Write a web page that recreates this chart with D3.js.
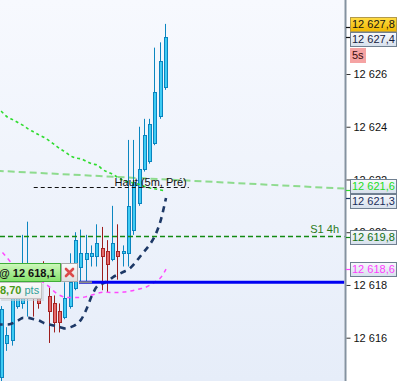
<!DOCTYPE html>
<html><head><meta charset="utf-8">
<script src="https://cdn.jsdelivr.net/npm/d3@7/dist/d3.min.js"></script>
<style>html,body{margin:0;padding:0;background:#fff;overflow:hidden}svg{display:block}</style>
</head><body>
<svg id="c" width="397" height="381"></svg>
<script>
// ---------- DATA ----------
const barIndex = d3.range(0, 32);
const opens  = [12614.5,12615.8,12615.9,12617.2,12617.3,12617.5,12617.9,12617.7,12618.7,12617.6,12617.3,12617.0,12616.8,12617.2,12617.9,12618.7,12619.0,12619.1,12619.1,12619.4,12619.3,12619.0,12619.3,12619.2,12619.2,12620.1,12621.1,12622.4,12622.7,12623.4,12624.4,12625.5];
const highs  = [12617.2,12616.4,12617.9,12618.7,12619.9,12620.4,12618.2,12618.0,12618.9,12617.9,12617.6,12617.3,12618.1,12619.2,12620.0,12620.1,12619.9,12619.5,12620.3,12620.2,12619.7,12621.0,12620.3,12619.5,12623.5,12623.5,12624.0,12624.3,12624.3,12627.0,12627.2,12627.9];
const lows   = [12614.2,12615.5,12615.7,12617.1,12617.1,12616.8,12616.8,12617.1,12618.2,12615.8,12616.2,12616.2,12616.7,12617.1,12617.8,12618.1,12618.1,12618.7,12618.7,12617.8,12617.7,12618.9,12618.2,12618.7,12618.7,12619.9,12621.0,12622.3,12622.6,12623.3,12624.3,12625.4];
const closes = [12617.1,12616.1,12617.7,12618.6,12618.4,12618.6,12617.5,12617.3,12618.4,12617.0,12616.6,12616.6,12617.5,12618.1,12619.7,12619.2,12619.2,12619.2,12619.6,12619.1,12618.8,12619.6,12619.1,12619.3,12621.0,12621.9,12622.4,12623.7,12624.1,12625.3,12626.5,12627.4];

// indicator curves, one value per bar from bar -1 to bar 31
const lineBars = d3.range(-1, 32);
const navyVals = [12616.5,12616.5,12616.5,12616.55,12616.65,12616.75,12616.75,12616.7,12616.65,12616.55,12616.5,12616.45,12616.4,12616.35,12616.4,12616.5,12616.7,12617.1,12617.6,12617.95,12618.05,12618.15,12618.3,12618.4,12618.5,12618.6,12618.8,12619.05,12619.3,12619.55,12619.9,12620.45,12621.3];
const magentaVals = [12619.44,12619.25,12619.02,12618.80,12618.64,12618.49,12618.38,12618.26,12618.19,12618.07,12617.92,12617.73,12617.60,12617.53,12617.52,12617.52,12617.52,12617.56,12617.62,12617.68,12617.72,12617.72,12617.71,12617.71,12617.73,12617.76,12617.80,12617.85,12617.90,12618.00,12618.13,12618.28,12618.6];
const greenVals = [12624.75,12624.56,12624.37,12624.27,12624.16,12624.05,12623.91,12623.80,12623.69,12623.59,12623.46,12623.31,12623.16,12623.04,12622.89,12622.81,12622.78,12622.68,12622.59,12622.55,12622.38,12622.28,12622.19,12622.06,12621.96,12621.90,12621.87,12621.81,12621.73,12621.68,12621.64,12621.60,12621.56];
const lightGreenBars = [-1, 66];
const lightGreenVals = [12622.33, 12621.64];

const hautLevel = 12621.7, hautBars = [6, 35.3], hautText = "Haut (5m, Pré)";
const s1Level = 12619.8, s1Text = "S1 4h";
const orderPrice = 12618.1, orderText = "@ 12 618,1", pnlValue = "8,70", pnlUnit = "pts";

const yTicks = [12616, 12618, 12620, 12622, 12624, 12626];
const labelValues = [12627.8, 12627.4, 12621.6, 12621.3, 12619.8, 12618.6];
const labelKinds  = ["high", "last", "green", "navy", "s1", "magenta"];
const timerText = "5s";

// ---------- SETUP ----------
const W = 397, H = 381, plotRight = 344.5;
const svg = d3.select("#c");
const defs = svg.append("defs");
const FONT = "'Liberation Sans', Arial, sans-serif";

function vgrad(id, a, b) {
  const g = defs.append("linearGradient").attr("id", id).attr("x1", 0).attr("y1", 0).attr("x2", 0).attr("y2", 1);
  g.append("stop").attr("offset", "0%").attr("stop-color", a);
  g.append("stop").attr("offset", "100%").attr("stop-color", b);
}
vgrad("bg", "#f7f9fe", "#e6edf9");
vgrad("gold", "#ffdc45", "#f0b800");
vgrad("box", "#f7f9fc", "#d6e0ec");
vgrad("ordg", "#cef8bc", "#84e16b");
vgrad("closeg", "#fbfbfb", "#dedede");
vgrad("pnlg", "#fbfbfb", "#ebebeb");
defs.append("clipPath").attr("id", "clip").append("rect")
  .attr("x", 0).attr("y", 0).attr("width", plotRight).attr("height", H);

svg.append("rect").attr("width", W).attr("height", H).attr("fill", "#ffffff");
svg.append("rect").attr("width", plotRight).attr("height", H).attr("fill", "url(#bg)");

const x = d3.scaleLinear().domain([0, 31]).range([2, 166]);
const y = d3.scaleLinear().domain([12616, 12626]).range([337.7, 74]);

const plot = svg.append("g").attr("clip-path", "url(#clip)");

// light green long-dash line
plot.append("path")
  .datum(lightGreenBars.map((b, k) => [b, lightGreenVals[k]]))
  .attr("d", d3.line().x(d => x(d[0])).y(d => y(d[1])))
  .attr("fill", "none").attr("stroke", "#8edb8e").attr("stroke-width", 2)
  .attr("stroke-dasharray", "7,4");

// candles
const candles = barIndex.map(i => ({ i, o: opens[i], h: highs[i], l: lows[i], c: closes[i] }));
const cg = plot.append("g");
cg.selectAll("line").data(candles).join("line")
  .attr("x1", d => Math.round(x(d.i)) - 0.5).attr("x2", d => Math.round(x(d.i)) - 0.5)
  .attr("y1", d => y(d.h)).attr("y2", d => y(d.l))
  .attr("stroke", d => d.c >= d.o ? "#0b86c0" : "#9c1c1c").attr("stroke-width", 1);
cg.selectAll("rect").data(candles).join("rect")
  .attr("x", d => Math.round(x(d.i)) - 1.5).attr("width", 3)
  .attr("y", d => Math.round(y(Math.max(d.o, d.c))) + 0.5)
  .attr("height", d => Math.max(1, Math.round(y(Math.min(d.o, d.c))) - Math.round(y(Math.max(d.o, d.c)))))
  .attr("fill", d => d.c >= d.o ? "#3ecbf3" : "#e46a6a")
  .attr("stroke", d => d.c >= d.o ? "#0a84bf" : "#a82424").attr("stroke-width", 1);

// indicator curves
const curve = d3.line().x(d => x(d[0])).y(d => y(d[1])).curve(d3.curveMonotoneX);
function drawCurve(vals, color, width, dash) {
  plot.append("path").datum(lineBars.map((b, k) => [b, vals[k]]))
    .attr("d", curve).attr("fill", "none").attr("stroke", color)
    .attr("stroke-width", width).attr("stroke-dasharray", dash);
}
drawCurve(greenVals, "#2fdc2f", 1.6, "3,3");
drawCurve(magentaVals, "#ff48ff", 1.5, "4,4");
drawCurve(navyVals, "#1d3866", 2.6, "6,5");

// Haut (5m, Pré)
plot.append("line")
  .attr("x1", x(hautBars[0])).attr("x2", x(hautBars[1]))
  .attr("y1", Math.round(y(hautLevel)) + 0.5).attr("y2", Math.round(y(hautLevel)) + 0.5)
  .attr("stroke", "#111").attr("stroke-width", 1).attr("stroke-dasharray", "4,3");
plot.append("text").attr("x", x(hautBars[1]) - 2).attr("y", y(hautLevel) - 1)
  .attr("text-anchor", "end").attr("font-family", FONT).attr("font-size", 11)
  .attr("fill", "#111").text(hautText);

// S1 4h
const s1y = Math.round(y(s1Level)) - 0.5;
plot.append("line").attr("x1", 0).attr("x2", plotRight + 6).attr("y1", s1y).attr("y2", s1y)
  .attr("stroke", "#138a13").attr("stroke-width", 1.5).attr("stroke-dasharray", "5,3");
plot.append("text").attr("x", 339).attr("y", s1y - 4).attr("text-anchor", "end")
  .attr("font-family", FONT).attr("font-size", 11).attr("fill", "#2a7a1a").text(s1Text);

// order line
const oy = y(orderPrice);
plot.append("line").attr("x1", 79).attr("x2", plotRight).attr("y1", oy).attr("y2", oy)
  .attr("stroke", "#0000f2").attr("stroke-width", 3);
plot.append("line").attr("x1", 79).attr("x2", 92).attr("y1", oy).attr("y2", oy)
  .attr("stroke", "#8a8a8a").attr("stroke-width", 2);

// order label
const ol = plot.append("g");
const topY = Math.round(oy) - 19;
ol.append("rect").attr("x", -1.5).attr("y", topY + 0.5).attr("width", 62).attr("height", 18)
  .attr("fill", "url(#ordg)").attr("stroke", "#3fae38");
ol.append("rect").attr("x", 61.5).attr("y", topY + 0.5).attr("width", 16).attr("height", 18)
  .attr("fill", "url(#closeg)").attr("stroke", "#a9a9a9");
const cx0 = 69.5, cy0 = topY + 9.5;
ol.append("path").attr("d", `M${cx0 - 3.5},${cy0 - 3.5}L${cx0 + 3.5},${cy0 + 3.5}M${cx0 + 3.5},${cy0 - 3.5}L${cx0 - 3.5},${cy0 + 3.5}`)
  .attr("stroke", "#dc4a4a").attr("stroke-width", 2.6).attr("stroke-linecap", "round");
ol.append("text").attr("x", -1).attr("y", topY + 14).attr("font-family", FONT)
  .attr("font-size", 11).attr("font-weight", "bold").attr("fill", "#111").text(orderText);
const botY = topY + 19;
ol.append("rect").attr("x", 1).attr("y", botY + 2).attr("width", 43).attr("height", 17).attr("fill", "#c9ced6").attr("opacity", 0.6);
ol.append("rect").attr("x", -1.5).attr("y", botY + 0.5).attr("width", 43).attr("height", 16)
  .attr("fill", "url(#pnlg)").attr("stroke", "#c2c2c2");
const pt = ol.append("text").attr("x", 0).attr("y", botY + 12).attr("font-family", FONT).attr("font-size", 11);
pt.append("tspan").attr("font-weight", "bold").attr("fill", "#4a9a16").text(pnlValue);
pt.append("tspan").attr("fill", "#2f9f9a").text(" " + pnlUnit);

// ---------- RIGHT AXIS ----------
svg.append("rect").attr("x", 346.5).attr("y", 0).attr("width", W - 346.5).attr("height", H).attr("fill", "#ffffff");
svg.append("line").attr("x1", 345.5).attr("x2", 345.5).attr("y1", 0).attr("y2", H)
  .attr("stroke", "#8492a0").attr("stroke-width", 2);

const loc = d3.formatLocale({ decimal: ",", thousands: " ", grouping: [3], currency: ["", ""] });
const fmt0 = loc.format(",.0f"), fmt1 = loc.format(",.1f");
const axisG = svg.append("g").attr("transform", "translate(346.5,0)")
  .call(d3.axisRight(y).tickValues(yTicks).tickFormat(fmt0).tickSize(4).tickPadding(3));
axisG.select(".domain").remove();
axisG.selectAll(".tick line").attr("stroke", "#333");
axisG.selectAll(".tick text").attr("font-family", FONT).attr("font-size", 11).attr("fill", "#111");

// price labels with collision layout
const styles = {
  high:    { fill: "url(#gold)", stroke: "#b39a4a", text: "#111", tick: "#111" },
  last:    { fill: "url(#box)",  stroke: "#6f7f90", text: "#152040", tick: "#111" },
  green:   { fill: "url(#box)",  stroke: "#6f7f90", text: "#22dd22", tick: "#2fdc2f" },
  navy:    { fill: "url(#box)",  stroke: "#6f7f90", text: "#1a2d5a", tick: "#1d3866" },
  s1:      { fill: "url(#box)",  stroke: "#6f7f90", text: "#127012", tick: "#138a13" },
  magenta: { fill: "url(#box)",  stroke: "#6f7f90", text: "#ff3cff", tick: "#ff48ff" }
};
const LH = 15;
const items = labelValues.map((v, k) => ({ v, kind: labelKinds[k], y0: y(v) })).sort((a, b) => a.y0 - b.y0);
let groups = items.map(d => ({ items: [d], y: d.y0 }));
let changed = true;
while (changed) {
  changed = false;
  for (let k = 0; k < groups.length - 1; k++) {
    const a = groups[k], b = groups[k + 1];
    if (a.y + a.items.length * LH / 2 > b.y - b.items.length * LH / 2) {
      const its = a.items.concat(b.items);
      groups.splice(k, 2, { items: its, y: d3.mean(its, d => d.y0) });
      changed = true; break;
    }
  }
}
groups.forEach(g => { const top = g.y - g.items.length * LH / 2; g.items.forEach((d, j) => d.top = Math.round(top + LH * j)); });

const lg = svg.append("g");
items.forEach(d => {
  const s = styles[d.kind];
  lg.append("line").attr("x1", 346).attr("x2", 351).attr("y1", Math.round(d.y0) + 0.5).attr("y2", Math.round(d.y0) + 0.5)
    .attr("stroke", s.tick).attr("stroke-width", 1.2);
  lg.append("rect").attr("x", 350.5).attr("y", d.top + 0.5).attr("width", 46).attr("height", LH - 1)
    .attr("fill", s.fill).attr("stroke", s.stroke);
  lg.append("text").attr("x", 352).attr("y", d.top + LH / 2).attr("dy", "0.36em")
    .attr("font-family", FONT).attr("font-size", 11).attr("fill", s.text).text(fmt1(d.v));
  if (d.kind === "last") {
    const ty = d.top + LH + 1;
    lg.append("rect").attr("x", 350).attr("y", ty).attr("width", 16).attr("height", 15).attr("fill", "#f5a3a3");
    lg.append("text").attr("x", 352).attr("y", ty + 7.5).attr("dy", "0.36em")
      .attr("font-family", FONT).attr("font-size", 11).attr("fill", "#3a0c0c").text(timerText);
  }
});
</script>
</body></html>
